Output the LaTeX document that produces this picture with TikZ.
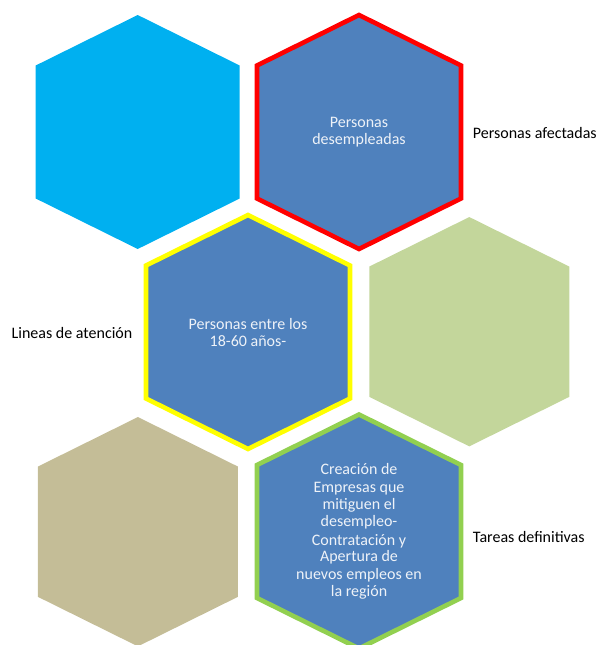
\documentclass[tikz,border=0pt]{standalone}
\usepackage{fontspec}
\setmainfont{Carlito}
\definecolor{hcyan}{HTML}{00B0F0}
\definecolor{hblue}{HTML}{4F81BD}
\definecolor{hred}{HTML}{FF0000}
\definecolor{hyellow}{HTML}{FFFF00}
\definecolor{hlgreen}{HTML}{C3D69B}
\definecolor{htan}{HTML}{C4BD97}
\definecolor{hgreen}{HTML}{92D050}
\definecolor{htext}{HTML}{EEF2F8}
\tikzset{
  hexa/.pic={\path[pic actions] (0,-117) -- (102,-66.5) -- (102,66.5) -- (0,117) -- (-102,66.5) -- (-102,-66.5) -- cycle;},
  rimmed/.style={draw=#1, line width=4.6pt, fill=hblue},
  hextext/.style={text=htext, align=center, font=\fontsize{16}{17.3}\selectfont, inner sep=0pt},
  sidetext/.style={text=black, font=\fontsize{16}{18}\selectfont, inner sep=0pt}
}
\begin{document}
\begin{tikzpicture}[x=1pt,y=-1pt]
\useasboundingbox (0,0) rectangle (601,645);
% hexagons
\pic[fill=hcyan] at (137.7,132) {hexa};
\pic[rimmed=hred] at (359,132) {hexa};
\pic[rimmed=hyellow] at (248,332) {hexa};
\pic[fill=hlgreen, scale=0.98] at (469.3,331.7) {hexa};
\pic[fill=htan, scale=0.98] at (137.9,531.7) {hexa};
\pic[rimmed=hgreen] at (359,531.5) {hexa};
% texts inside
\node[hextext] (t2) at (359,132.5) {Personas\\desempleadas};
\node[hextext] (t3) at (248,332.5) {Personas entre los\\18-60 años-};
\node[hextext] (t6) at (359,531.5) {Creación de\\Empresas que\\mitiguen el\\desempleo-\\[2pt]Contratación y\\[-1.3pt]Apertura de\\nuevos empleos en\\la región};
% side labels
\node[sidetext] (l2) at (534.8,133.3) {Personas afectadas};
\node[sidetext] (l3) at (72,333.3) {Lineas de atención};
\node[sidetext] (l6) at (528.8,536.7) {Tareas definitivas};
\end{tikzpicture}
\end{document}
